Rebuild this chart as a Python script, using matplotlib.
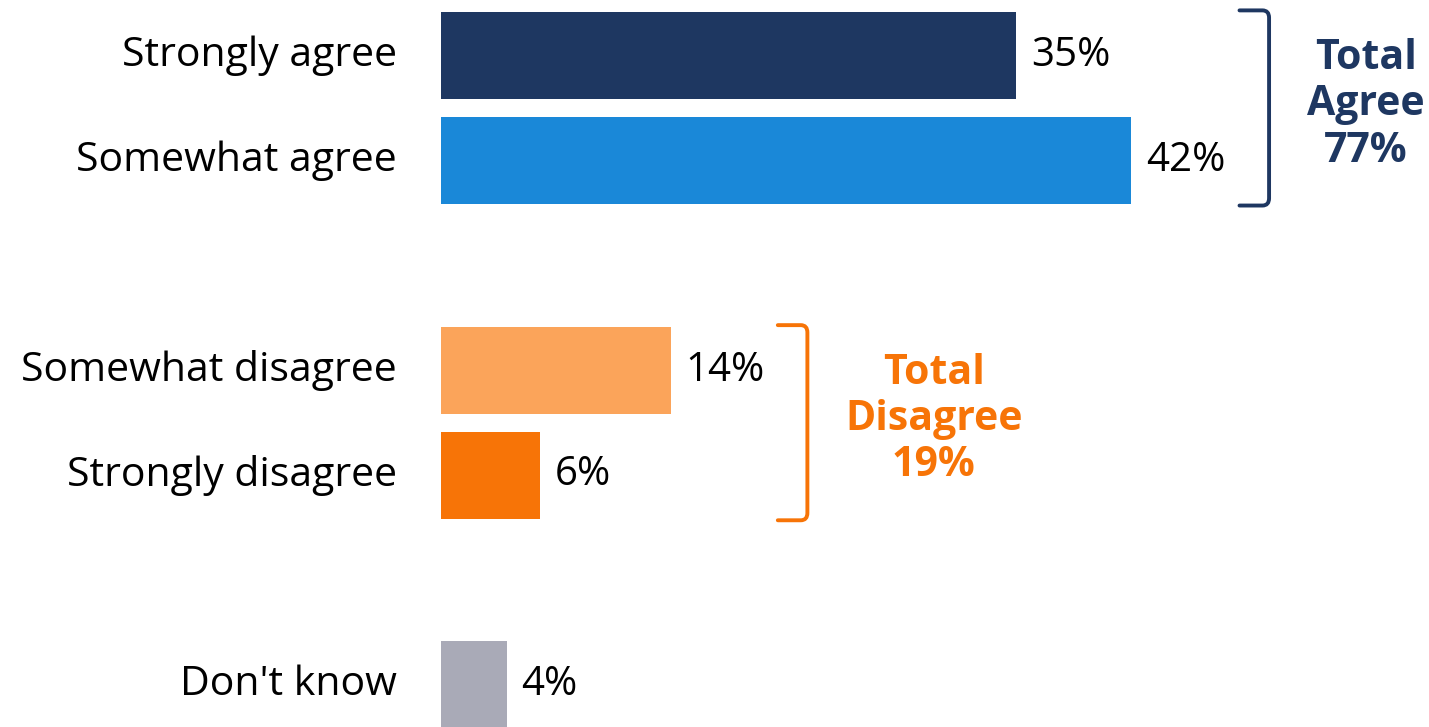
import matplotlib.pyplot as plt
from matplotlib.path import Path
from matplotlib.patches import PathPatch

plt.rcParams['font.family'] = ['Open Sans', 'DejaVu Sans']

# survey answers, top to bottom
categories = ["Strongly agree", "Somewhat agree", "Somewhat disagree",
              "Strongly disagree", "Don't know"]
values = [35, 42, 14, 6, 4]
slots = [0, 1, 3, 4, 6]
colors = ["#1e3761", "#1a88d8", "#fba45a", "#f77407", "#a9aab7"]

totals = [("Total\nAgree\n77%", "#1e3761", 0, 1),
          ("Total\nDisagree\n19%", "#f77407", 3, 4)]

fig = plt.figure(figsize=(14.29, 7.27), dpi=100)
ax = fig.add_axes([441 / 1429, 0, 988 / 1429, 1])
ax.set_xlim(0, 988 / 16.43)
ax.set_ylim(6 + 42 / 104.9, -55.5 / 104.9)
ax.axis("off")

ax.barh(slots, values, height=0.83, color=colors)

for s, v, lab in zip(slots, values, categories):
    ax.text(v + 0.9, s, f"{v}%", va="center", ha="left", fontsize=29)
    ax.text(-2.7, s, lab, va="center", ha="right", fontsize=29.5)


def bracket(x, y0, y1, color):
    # right-hand square bracket with rounded corners
    w, r = 1.8, 0.07
    verts = [(x - w, y0), (x - 0.4, y0), (x, y0), (x, y0 + r),
             (x, y1 - r), (x, y1), (x - 0.4, y1), (x - w, y1)]
    codes = [Path.MOVETO, Path.LINETO, Path.CURVE3, Path.CURVE3,
             Path.LINETO, Path.CURVE3, Path.CURVE3, Path.LINETO]
    ax.add_patch(PathPatch(Path(verts, codes), fill=False, ec=color,
                           lw=2.8, capstyle="round", joinstyle="round"))


for (text, col, a, b), bx, tx in zip(totals, [50.4, 22.3], [56.3, 30.0]):
    y0 = a - 0.43
    y1 = b + 0.43
    bracket(bx, y0, y1, col)
    ax.text(tx, (a + b) / 2 - 0.03, text, color=col, fontsize=29.5,
            fontweight="bold", ha="center", va="center", linespacing=1.17)

fig.savefig("out.png", dpi=100)
